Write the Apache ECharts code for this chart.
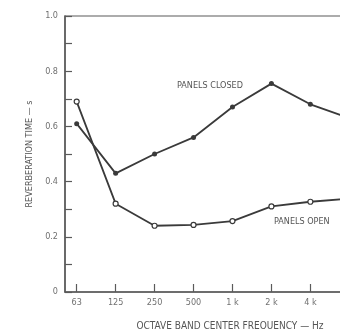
<!DOCTYPE html>
<html>
<head>
<meta charset="utf-8">
<script src="https://cdn.jsdelivr.net/npm/echarts@6/dist/echarts.min.js"></script>
<style>
  html, body { margin: 0; padding: 0; background: #fff; overflow: hidden; }
  /* the plot runs past the right edge of the window, as in the original scan */
  #chart { width: 364px; height: 329px; }
</style>
</head>
<body>
<div id="chart"></div>
<script>
// octave band centre frequencies (x positions are band indexes)
var freqLabels = ['63', '125', '250', '500', '1 k', '2 k', '4 k', '8 k']
var bandIndex = [0, 1, 2, 3, 4, 5, 6, 7]
// reverberation time, seconds
var panelsClosed = [0.61, 0.43, 0.50, 0.56, 0.67, 0.755, 0.68, 0.63]
var panelsOpen = [0.69, 0.32, 0.24, 0.243, 0.257, 0.31, 0.327, 0.338]

var font = "'Liberation Sans Narrow', 'DejaVu Sans Condensed', sans-serif"
var axisColor = '#5a5a5a'
var textColor = '#707070'

function pairs(ys) {
  return bandIndex.map(function (x, i) { return [x, ys[i]] })
}

var chart = echarts.init(document.getElementById('chart'))
chart.setOption({
  animation: false,
  title: {
    text: 'OCTAVE BAND CENTER FREQUENCY — Hz',
    left: 225,
    top: 316,
    textAlign: 'center',
    textStyle: { fontFamily: font, fontSize: 10, fontWeight: 'normal', color: '#555' }
  },
  grid: {
    left: 65,
    top: 16,
    width: 296,
    height: 276,
    show: true,
    borderColor: axisColor,
    borderWidth: 1.2
  },
  xAxis: {
    type: 'value',
    min: -0.3,
    max: 7.3,
    splitLine: { show: false },
    axisLine: { onZero: false, lineStyle: { color: axisColor, width: 1.5 } },
    axisTick: {
      inside: true, length: 8, customValues: bandIndex,
      lineStyle: { color: axisColor, width: 1.2 }
    },
    axisLabel: {
      customValues: bandIndex,
      fontFamily: font, fontSize: 9, color: textColor, margin: 6,
      formatter: function (v) { return freqLabels[Math.round(v)] }
    }
  },
  yAxis: {
    type: 'value',
    min: 0,
    max: 1,
    interval: 0.1,
    name: 'REVERBERATION TIME — s',
    nameLocation: 'middle',
    nameGap: 31,
    nameTextStyle: { fontFamily: font, fontSize: 9, color: '#555' },
    splitLine: { show: false },
    axisLine: { onZero: false, lineStyle: { color: axisColor, width: 1.5 } },
    axisTick: { inside: true, length: 7, lineStyle: { color: axisColor, width: 1.2 } },
    axisLabel: {
      fontFamily: font, fontSize: 9, color: textColor, margin: 7,
      formatter: function (v) {
        var k = Math.round(v * 10)
        if (k % 2) return ''
        if (k === 0) return '0'
        return (k / 10).toFixed(1)
      }
    }
  },
  series: [{
    name: 'PANELS CLOSED',
    type: 'line',
    data: pairs(panelsClosed),
    symbol: 'circle',
    symbolSize: 5,
    lineStyle: { color: '#3a3a3a', width: 1.8 },
    itemStyle: { color: '#3a3a3a' }
  }, {
    name: 'PANELS OPEN',
    type: 'line',
    data: pairs(panelsOpen),
    symbol: 'circle',
    symbolSize: 5,
    lineStyle: { color: '#3a3a3a', width: 1.8 },
    itemStyle: { color: '#fff', borderColor: '#3a3a3a', borderWidth: 1.2 }
  }],
  graphic: [{
    type: 'text', left: 177, top: 81,
    style: { text: 'PANELS CLOSED', font: '9px ' + font, fill: '#555' }
  }, {
    type: 'text', left: 274, top: 217,
    style: { text: 'PANELS OPEN', font: '9px ' + font, fill: '#555' }
  }]
})
</script>
</body>
</html>
